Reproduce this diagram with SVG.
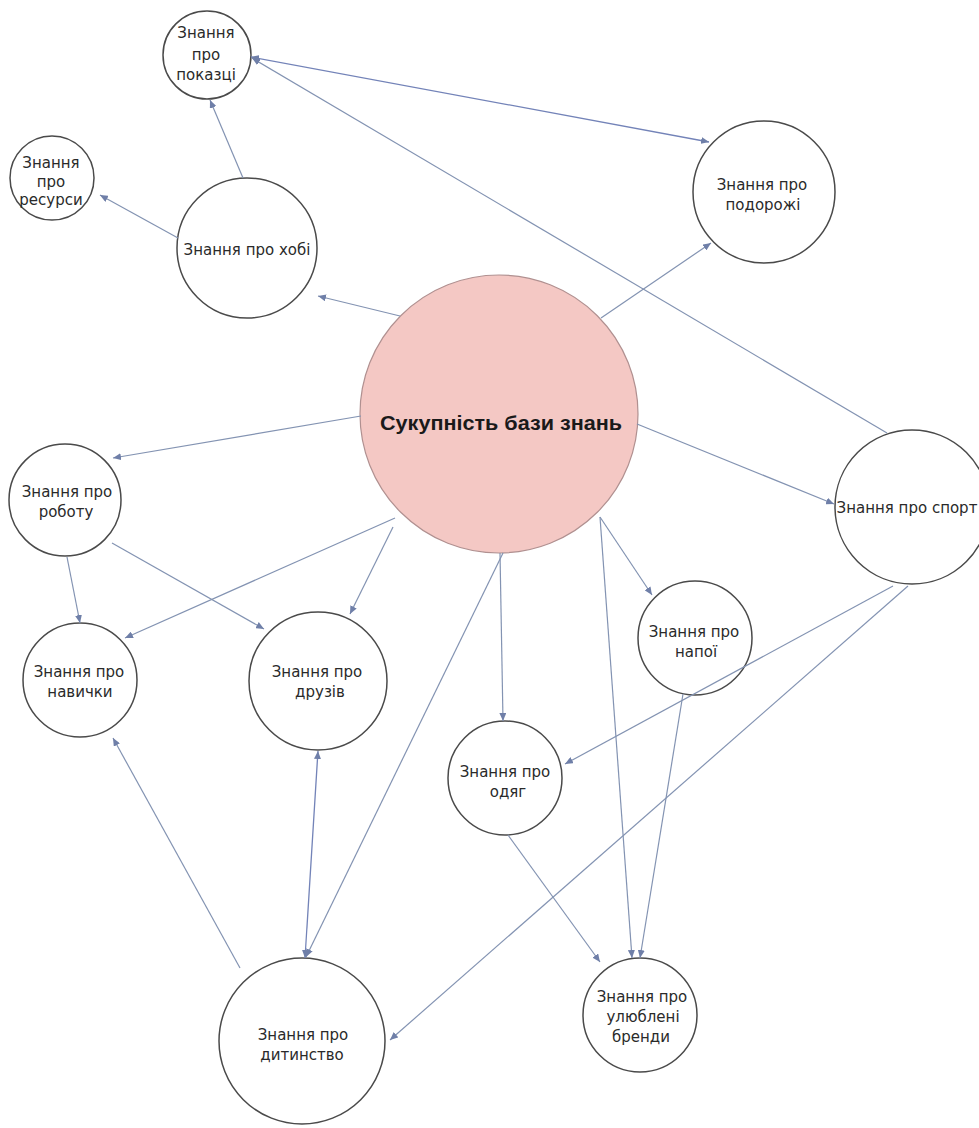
<svg xmlns="http://www.w3.org/2000/svg" width="979" height="1128" viewBox="0 0 979 1128">
<style>
.n{fill:#ffffff;stroke:#4a4a4a;stroke-width:1.5}
.c{fill:#f4c8c4;stroke:#b09090;stroke-width:1.2}
.t{font-family:"DejaVu Sans","Liberation Sans",sans-serif;font-size:15px;fill:#2a2a2a;text-anchor:middle}
.tb{font-family:"Liberation Sans","DejaVu Sans",sans-serif;font-size:21px;font-weight:bold;fill:#1a1a1a;text-anchor:middle}
.e{stroke:#8393b2;stroke-width:1.2;fill:none;marker-end:url(#ah)}
.d{stroke:#7383b8;stroke-width:1.3;fill:none;marker-end:url(#ah);marker-start:url(#ah)}
</style>
<defs>
<marker id="ah" viewBox="0 0 8 7" refX="8" refY="3.5" markerWidth="8" markerHeight="7" markerUnits="userSpaceOnUse" orient="auto-start-reverse">
<path d="M0,0 L8,3.5 L0,7 z" fill="#6f7fa8"/>
</marker>
</defs>
<rect x="0" y="0" width="979" height="1128" fill="#ffffff"/>

<g id="node-central">
<circle class="c" cx="499" cy="414" r="139"/>
<text class="tb" x="501" y="430" textLength="242" lengthAdjust="spacingAndGlyphs">Сукупність бази знань</text>
</g>
<g id="node-pokazci">
<circle class="n" cx="207" cy="55" r="44"/>
<text class="t" x="206" y="38">Знання</text>
<text class="t" x="206" y="60">про</text>
<text class="t" x="206" y="80">показці</text>
</g>
<g id="node-resursy">
<circle class="n" cx="52" cy="178" r="42"/>
<text class="t" x="51" y="168">Знання</text>
<text class="t" x="51" y="187">про</text>
<text class="t" x="51" y="205">ресурси</text>
</g>
<g id="node-hobi">
<circle class="n" cx="247" cy="248" r="70"/>
<text class="t" x="247" y="255">Знання про хобі</text>
</g>
<g id="node-podorozhi">
<circle class="n" cx="764" cy="192" r="71"/>
<text class="t" x="762" y="190">Знання про</text>
<text class="t" x="763" y="210">подорожі</text>
</g>
<g id="node-robotu">
<circle class="n" cx="65" cy="500" r="56"/>
<text class="t" x="67" y="497">Знання про</text>
<text class="t" x="66" y="517">роботу</text>
</g>
<g id="node-navychky">
<circle class="n" cx="80" cy="680" r="57"/>
<text class="t" x="79" y="677">Знання про</text>
<text class="t" x="80" y="697">навички</text>
</g>
<g id="node-druziv">
<circle class="n" cx="318" cy="681" r="69"/>
<text class="t" x="317" y="677">Знання про</text>
<text class="t" x="320" y="697">друзів</text>
</g>
<g id="node-sport">
<circle class="n" cx="912" cy="507" r="77"/>
<text class="t" x="907" y="513">Знання про спорт</text>
</g>
<g id="node-napoi">
<circle class="n" cx="695" cy="638" r="57"/>
<text class="t" x="694" y="637">Знання про</text>
<text class="t" x="696" y="657">напої</text>
</g>
<g id="node-odiah">
<circle class="n" cx="505" cy="778" r="57"/>
<text class="t" x="505" y="777">Знання про</text>
<text class="t" x="508" y="797">одяг</text>
</g>
<g id="node-brendy">
<circle class="n" cx="640" cy="1015" r="57"/>
<text class="t" x="642" y="1002">Знання про</text>
<text class="t" x="643" y="1022">улюблені</text>
<text class="t" x="641" y="1042">бренди</text>
</g>
<g id="node-dytynstvo">
<circle class="n" cx="302" cy="1041" r="83"/>
<text class="t" x="303" y="1040">Знання про</text>
<text class="t" x="302" y="1060">дитинство</text>
</g>

<g id="connectors">
<line class="d" x1="251" y1="57" x2="709" y2="142"/>
<line class="e" x1="887" y1="433" x2="252" y2="58"/>
<line class="e" x1="243" y1="178" x2="210" y2="100"/>
<line class="e" x1="178" y1="238" x2="100" y2="195"/>
<line class="e" x1="400" y1="316" x2="318" y2="296"/>
<line class="e" x1="601" y1="318" x2="711" y2="243"/>
<line class="e" x1="361" y1="416" x2="113" y2="458"/>
<line class="e" x1="637" y1="424" x2="834" y2="504"/>
<line class="e" x1="395" y1="518" x2="125" y2="638"/>
<line class="e" x1="393" y1="527" x2="350" y2="614"/>
<line class="e" x1="67" y1="557" x2="80" y2="623"/>
<line class="e" x1="112" y1="543" x2="264" y2="629"/>
<line class="e" x1="500" y1="553" x2="503" y2="721"/>
<line class="e" x1="600" y1="517" x2="652" y2="595"/>
<line class="e" x1="600" y1="517" x2="632" y2="958"/>
<line class="e" x1="503" y1="553" x2="306" y2="957"/>
<line class="d" x1="318" y1="751" x2="305" y2="958"/>
<line class="e" x1="240" y1="968" x2="113" y2="738"/>
<line class="e" x1="683" y1="694" x2="640" y2="958"/>
<line class="e" x1="893" y1="586" x2="565" y2="764"/>
<line class="e" x1="908" y1="586" x2="390" y2="1040"/>
<line class="e" x1="508" y1="835" x2="600" y2="962"/>
</g>
</svg>
